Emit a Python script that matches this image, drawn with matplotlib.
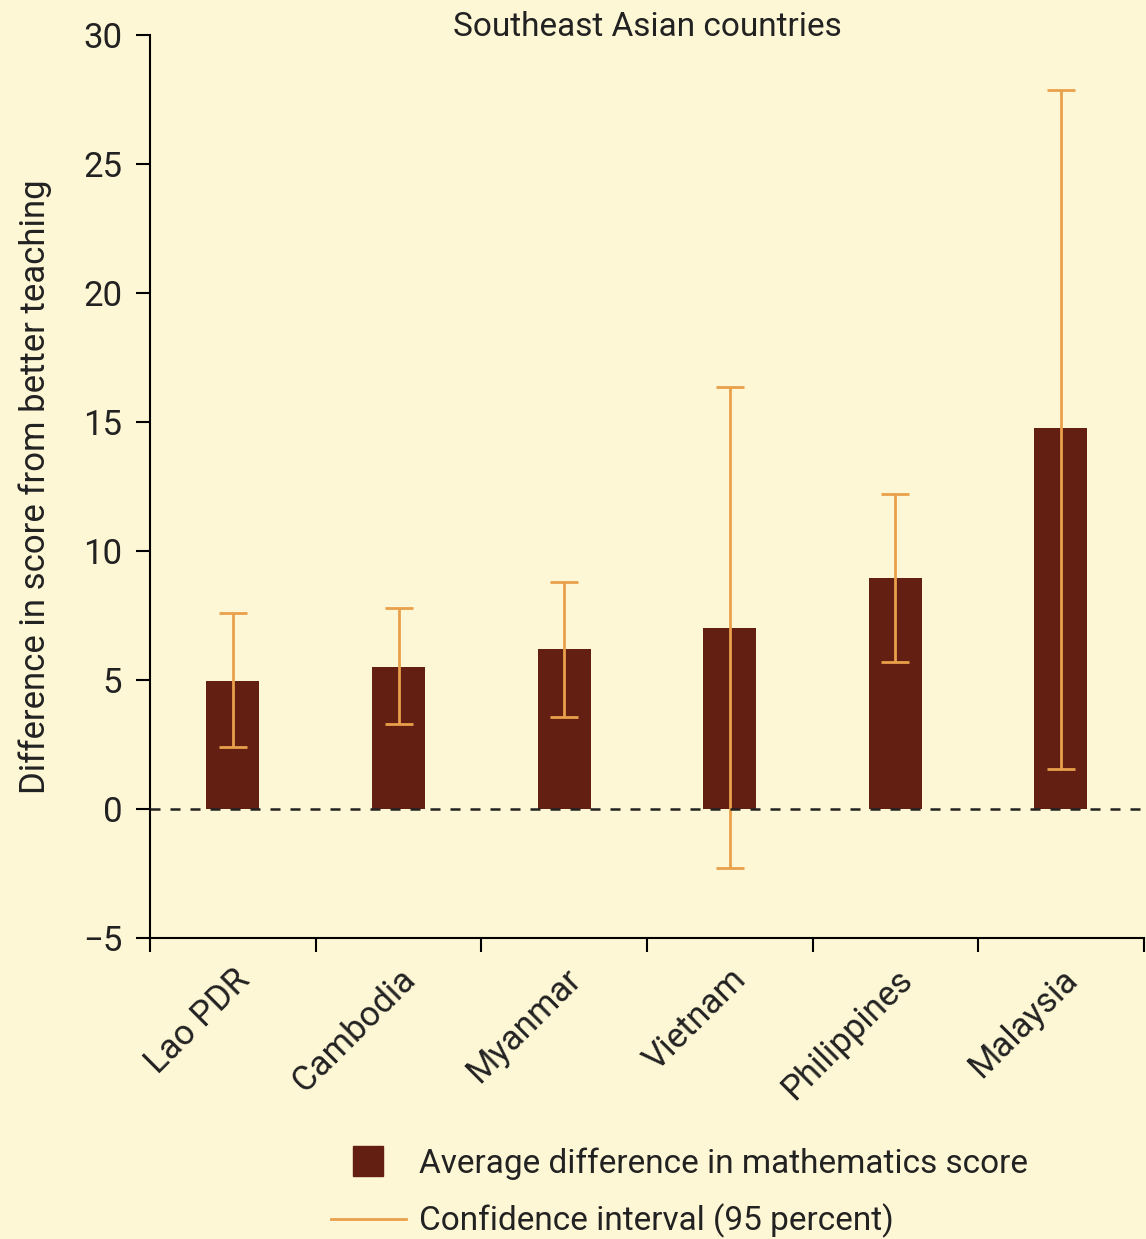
import matplotlib.pyplot as plt
from matplotlib.lines import Line2D
import numpy as np

countries = ['Lao PDR', 'Cambodia', 'Myanmar', 'Vietnam', 'Philippines', 'Malaysia']
avg_diff = [4.95, 5.5, 6.2, 7.0, 8.95, 14.75]
ci_low = [2.4, 3.3, 3.55, -2.3, 5.7, 1.55]
ci_high = [7.6, 7.8, 8.8, 16.35, 12.2, 27.85]

bg = '#FEF7D5'
bar_col = '#631F12'
ci_col = '#E9A04B'
txt = '#222222'

plt.rcParams['font.family'] = ['Roboto', 'DejaVu Sans']

fig = plt.figure(figsize=(11.46, 12.39), dpi=100, facecolor=bg)
ax = fig.add_axes([0.131, 0.243, 0.867, 0.729], facecolor=bg)

x = np.arange(len(countries))
avg = np.array(avg_diff)
yerr = [avg - np.array(ci_low), np.array(ci_high) - avg]

ax.bar(x, avg, width=0.32, color=bar_col, zorder=2)
ax.errorbar(x, avg, yerr=yerr, fmt='none', ecolor=ci_col, elinewidth=2,
            capsize=10, capthick=2, zorder=3)
ax.axhline(0, color=txt, linestyle=(0, (4, 4)), linewidth=1.8, zorder=4)

ax.set_xlim(-0.5, 5.5)
ax.set_ylim(-5, 30)
ax.set_yticks([-5, 0, 5, 10, 15, 20, 25, 30])
ax.set_yticklabels(['\u22125', '0', '5', '10', '15', '20', '25', '30'])
ax.set_xticks(np.append(x - 0.5, 5.5))
ax.set_xticklabels([])
ax.set_xticks(x, minor=True)
ax.set_xticklabels(countries, minor=True, rotation=45, ha='right', va='top',
                   rotation_mode='anchor', fontsize=25, color=txt)
ax.tick_params(axis='x', which='minor', length=0, pad=18)
ax.tick_params(axis='x', which='major', length=10, width=1.5, direction='out')
ax.tick_params(axis='y', length=10, width=1.5, labelsize=25, pad=10,
               labelcolor=txt)

for s in ['top', 'right']:
    ax.spines[s].set_visible(False)
ax.spines['left'].set_linewidth(1.5)
ax.spines['bottom'].set_linewidth(1.5)

ax.set_ylabel('Difference in score from better teaching', fontsize=25,
              color=txt, labelpad=22)
fig.text(0.565, 0.978, 'Southeast Asian countries', ha='center', va='center',
         fontsize=24, color=txt)

handles = [Line2D([], [], marker='s', color='none', markerfacecolor=bar_col,
                  markeredgecolor=bar_col, markersize=22),
           Line2D([], [], color=ci_col, linewidth=2)]
labels = ['Average difference in mathematics score', 'Confidence interval (95 percent)']
fig.legend(handles, labels, loc='upper left', bbox_to_anchor=(0.277, 0.085),
           frameon=False, fontsize=24, handlelength=2.25, handletextpad=0.4,
           labelspacing=0.72, borderaxespad=0, labelcolor=txt)

fig.savefig('out.png', dpi=100, facecolor=bg)
